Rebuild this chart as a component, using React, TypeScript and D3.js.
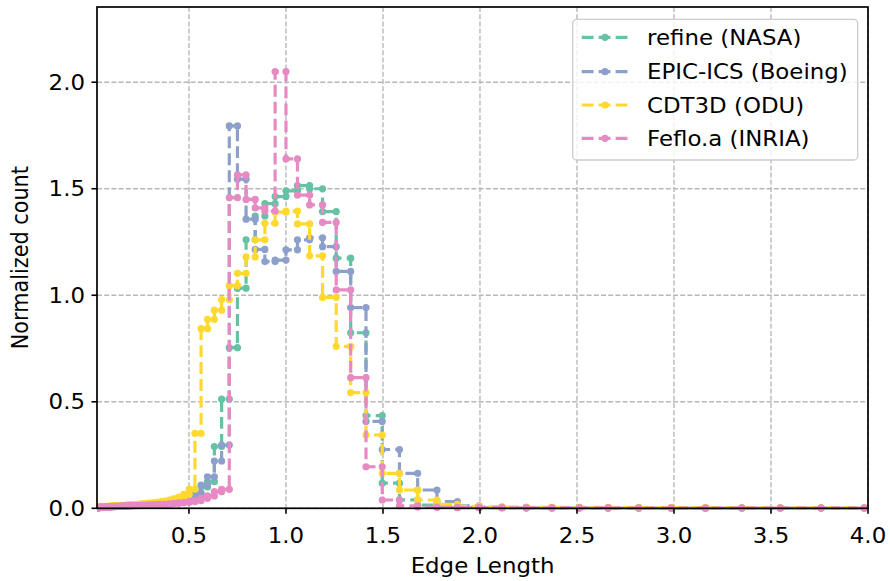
import React from "react";
import * as d3 from "d3";

// Log-spaced histogram bins: 40 bins per decade, first edge exponent -63/40
const BIN_START_EXP = -63;
const BINS_PER_DECADE = 40;

const seriesNames = ["refine (NASA)", "EPIC-ICS (Boeing)", "CDT3D (ODU)", "Feflo.a (INRIA)"];
const seriesColors = ["#66c2a5", "#8da0cb", "#ffd92f", "#e78ac3"];

const refineLow = [0.002,0.002, 0.003,0.003,0.003,0.003,0.004,0.004,0.004,0.004,0.005,0.005, 0.005,0.005,0.006,0.006,0.006,0.006,0.007,0.007,0.007,0.008, 0.008,0.008,0.009,0.009,0.009,0.010,0.010,0.011,0.011,0.012, 0.012,0.013,0.013,0.014,0.015,0.015,0.016,0.017,0.018,0.019, 0.020,0.021,0.023,0.025,0.027,0.030,0.033,0.037,0.042];
const refineMain = [0.05,0.068,0.1,0.125,0.29,0.513, 0.754,1.033,1.26,1.372,1.43,1.463, 1.49,1.515,1.50,1.393,1.174,0.824, 0.435,0.118,0.04,0.015,0.007,0.004,0.003];
const refineHigh = [0.003,0.002,0.002,0.002,0.002,0.001,0.001,0.001,0.001,0.001,0.001,0.001];

const epicLow = [0.002,0.002, 0.002,0.003,0.003,0.003,0.003,0.004,0.004,0.004,0.004,0.005, 0.005,0.005,0.005,0.006,0.006,0.006,0.007,0.007,0.007,0.008, 0.008,0.008,0.009,0.009,0.010,0.010,0.010,0.011,0.011,0.012, 0.013,0.013,0.014,0.014,0.015,0.016,0.017,0.018,0.019,0.020, 0.021,0.022,0.024,0.026,0.028,0.031,0.034,0.038,0.044];
const epicMain = [0.052,0.072,0.109,0.148,0.222,0.297, 1.795,1.545,1.357,1.215,1.158,1.165, 1.213,1.26,1.27,1.228,1.112,0.942, 0.408,0.276,0.164,0.086,0.031,0.012,0.006];
const epicHigh = [0.004,0.003,0.003,0.002,0.002,0.002,0.001,0.001,0.001,0.001,0.001,0.001];

const cdt3dLow = [0.004,0.004, 0.004,0.004,0.004,0.005,0.005,0.005,0.005,0.006,0.006,0.006, 0.006,0.007,0.007,0.007,0.007,0.008,0.008,0.008,0.009,0.009, 0.009,0.010,0.010,0.010,0.011,0.011,0.012,0.012,0.013,0.013, 0.014,0.015,0.015,0.016,0.017,0.018,0.019,0.020,0.021,0.023, 0.024,0.026,0.028,0.031,0.034,0.038,0.044,0.052,0.065];
const cdt3dMain = [0.09,0.352,0.843,0.887,0.93,0.98, 1.045,1.103,1.18,1.26,1.338,1.39, 1.395,1.335,1.185,0.99,0.76,0.543, 0.344,0.164,0.086,0.039,0.018,0.009,0.006];
const cdt3dHigh = [0.005,0.005,0.004,0.004,0.003,0.003,0.003,0.002,0.002,0.002,0.002,0.002];

const fefloLow = [0.003,0.003, 0.003,0.003,0.003,0.003,0.004,0.004,0.004,0.004,0.004,0.005, 0.005,0.005,0.005,0.005,0.006,0.006,0.006,0.006,0.007,0.007, 0.007,0.007,0.008,0.008,0.008,0.009,0.009,0.009,0.010,0.010, 0.010,0.011,0.011,0.012,0.012,0.013,0.013,0.014,0.014,0.015, 0.016,0.016,0.017,0.018,0.019,0.021,0.023,0.025,0.028];
const fefloMain = [0.032,0.036,0.047,0.058,0.078,0.089, 1.458,1.565,1.45,1.41,1.395,2.05, 1.64,1.47,1.424,1.342,1.025,0.613, 0.195,0.039,0.012,0.006,0.004,0.003,0.003];
const fefloHigh = [0.002,0.002,0.002,0.002,0.001,0.001,0.001,0.001,0.001,0.001,0.001,0.001];

const xTicks = [0.5, 1.0, 1.5, 2.0, 2.5, 3.0, 3.5, 4.0];
const yTicks = [0.0, 0.5, 1.0, 1.5, 2.0];

const seriesValues = [
  [...refineLow, ...refineMain, ...refineHigh],
  [...epicLow, ...epicMain, ...epicHigh],
  [...cdt3dLow, ...cdt3dMain, ...cdt3dHigh],
  [...fefloLow, ...fefloMain, ...fefloHigh],
];

const W = 890, H = 581;
const L = 97, R = 868, T = 7, B = 508.3;
const FONT = "DejaVu Sans";
const FS = 20.8;
const SX = 1.1;

export default function App() {
  const x = d3.scaleLinear().domain([0.026, 4.0]).range([L, R]);
  const y = d3.scaleLinear().domain([0, 2.353]).range([B, T]);

  const nBins = seriesValues[0].length;
  const edges = d3.range(nBins + 1).map((i) => Math.pow(10, (BIN_START_EXP + i) / BINS_PER_DECADE));

  const series = seriesValues.map((vals) => {
    const pts: [number, number][] = [];
    vals.forEach((h, i) => {
      pts.push([edges[i], h]);
      pts.push([edges[i + 1], h]);
    });
    return pts;
  });

  const line = d3.line<[number, number]>().x((d) => x(d[0])).y((d) => y(d[1]));
  const lw = 3.2;
  const mr = 3.6;
  const dash = `${3.7 * lw} ${1.6 * lw}`;

  const txt = (key: string, tx: number, ty: number, s: string, anchor: string, rotate = 0) => (
    <text
      key={key}
      transform={`translate(${tx},${ty}) rotate(${rotate}) scale(${rotate ? 1 : SX},${rotate ? SX : 1})`}
      textAnchor={anchor}
      fontFamily={FONT}
      fontSize={FS}
      fill="#000"
    >
      {s}
    </text>
  );

  const legendRows = [37.3, 71.7, 105, 138.3];

  return (
    <svg width={W} height={H} style={{ position: "absolute", left: 0, top: 0, background: "#fff" }}>
      <defs>
        <clipPath id="plot">
          <rect x={L} y={T - 4} width={R - L} height={B - T + 8} />
        </clipPath>
      </defs>
      <rect x={0} y={0} width={W} height={H} fill="#fff" />
      {/* grid */}
      <g stroke="#b8b8b8" strokeWidth={1.4} strokeDasharray="5 2.2">
        {xTicks.map((t) => (
          <line key={"gx" + t} x1={x(t)} x2={x(t)} y1={T} y2={B} />
        ))}
        {yTicks.map((t) => (
          <line key={"gy" + t} x1={L} x2={R} y1={y(t)} y2={y(t)} />
        ))}
      </g>
      {/* series */}
      <g clipPath="url(#plot)">
        {series.map((pts, si) => (
          <g key={"s" + si}>
            <path d={line(pts) || ""} fill="none" stroke={seriesColors[si]} strokeWidth={lw} strokeDasharray={dash} />
            {pts.map((p, pi) => (
              <circle key={pi} cx={x(p[0])} cy={y(p[1])} r={mr} fill={seriesColors[si]} />
            ))}
          </g>
        ))}
      </g>
      {/* spines */}
      <rect x={L} y={T} width={R - L} height={B - T} fill="none" stroke="#000" strokeWidth={1.7} />
      {/* ticks */}
      <g stroke="#000" strokeWidth={1.6}>
        {xTicks.map((t) => (
          <line key={"tx" + t} x1={x(t)} x2={x(t)} y1={B} y2={B + 5.5} />
        ))}
        {yTicks.map((t) => (
          <line key={"ty" + t} x1={L} x2={L - 5.5} y1={y(t)} y2={y(t)} />
        ))}
      </g>
      {xTicks.map((t) => txt("xl" + t, x(t), 543, d3.format(".1f")(t), "middle"))}
      {yTicks.map((t) => txt("yl" + t, 85, y(t) + 7.5, d3.format(".1f")(t), "end"))}
      {txt("xlabel", (L + R) / 2, 573, "Edge Length", "middle")}
      {txt("ylabel", 28, (T + B) / 2, "Normalized count", "middle", -90)}
      {/* legend */}
      <rect x={572.7} y={19.3} width={285} height={140.7} rx={4} fill="#fff" fillOpacity={0.8} stroke="#cccccc" strokeWidth={1.3} />
      {seriesNames.map((name, i) => (
        <g key={"lg" + i}>
          <line x1={581.7} x2={628.3} y1={legendRows[i]} y2={legendRows[i]} stroke={seriesColors[i]} strokeWidth={lw} strokeDasharray={dash} />
          <circle cx={605} cy={legendRows[i]} r={mr} fill={seriesColors[i]} />
          {txt("lt" + i, 647, legendRows[i] + 7.5, name, "start")}
        </g>
      ))}
    </svg>
  );
}
